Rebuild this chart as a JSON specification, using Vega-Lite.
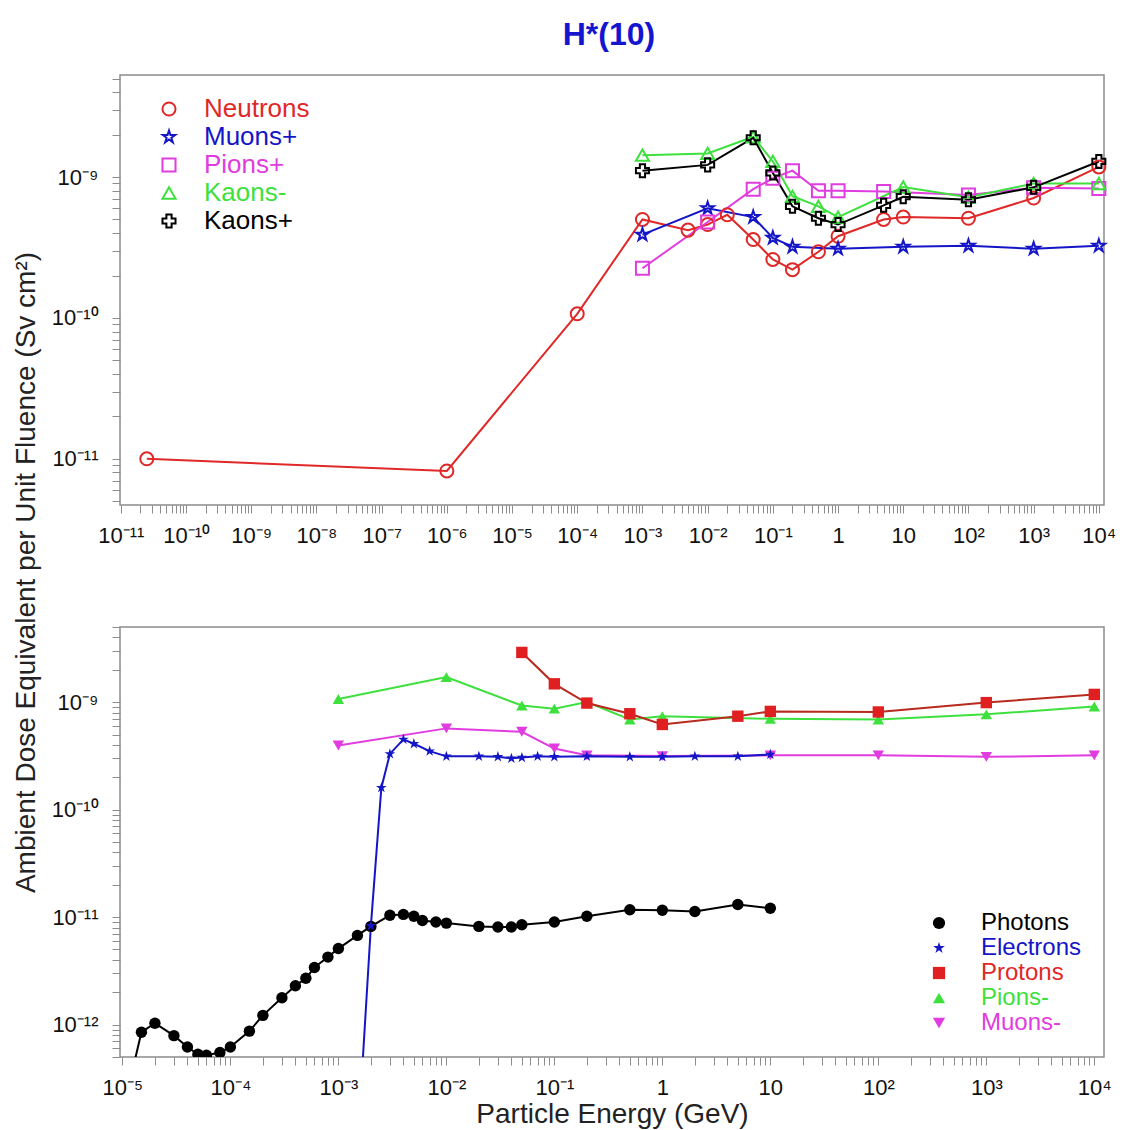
{
  "$schema": "https://vega.github.io/schema/vega-lite/v6.json",
  "padding": {"left": 11, "top": 18, "right": 0, "bottom": 0},
  "background": "white",
  "title": {"text": "H*(10)", "fontSize": 32, "fontWeight": "bold", "color": "#1515d0", "anchor": "middle", "offset": 15, "dx": 45, "font": "Liberation Sans"},
  "bounds": "flush",
  "spacing": 122,
  "datasets": {
    "top": [
      {"p": "Neutrons", "E": 2.5e-11, "H": 1.0e-11},
      {"p": "Neutrons", "E": 1e-6, "H": 8.2e-12},
      {"p": "Neutrons", "E": 1e-4, "H": 1.07e-10},
      {"p": "Neutrons", "E": 1e-3, "H": 5.0e-10},
      {"p": "Neutrons", "E": 5e-3, "H": 4.2e-10},
      {"p": "Neutrons", "E": 1e-2, "H": 4.6e-10},
      {"p": "Neutrons", "E": 2e-2, "H": 5.4e-10},
      {"p": "Neutrons", "E": 5e-2, "H": 3.6e-10},
      {"p": "Neutrons", "E": 0.1, "H": 2.6e-10},
      {"p": "Neutrons", "E": 0.2, "H": 2.2e-10},
      {"p": "Neutrons", "E": 0.5, "H": 2.95e-10},
      {"p": "Neutrons", "E": 1, "H": 3.8e-10},
      {"p": "Neutrons", "E": 5, "H": 5.0e-10},
      {"p": "Neutrons", "E": 10, "H": 5.2e-10},
      {"p": "Neutrons", "E": 100, "H": 5.1e-10},
      {"p": "Neutrons", "E": 1000, "H": 7.1e-10},
      {"p": "Neutrons", "E": 10000, "H": 1.18e-9},
      {"p": "Muons+", "E": 1e-3, "H": 3.9e-10},
      {"p": "Muons+", "E": 1e-2, "H": 6.0e-10},
      {"p": "Muons+", "E": 5e-2, "H": 5.2e-10},
      {"p": "Muons+", "E": 0.1, "H": 3.7e-10},
      {"p": "Muons+", "E": 0.2, "H": 3.2e-10},
      {"p": "Muons+", "E": 1, "H": 3.1e-10},
      {"p": "Muons+", "E": 10, "H": 3.2e-10},
      {"p": "Muons+", "E": 100, "H": 3.25e-10},
      {"p": "Muons+", "E": 1000, "H": 3.1e-10},
      {"p": "Muons+", "E": 10000, "H": 3.25e-10},
      {"p": "Pions+", "E": 1e-3, "H": 2.25e-10},
      {"p": "Pions+", "E": 1e-2, "H": 4.8e-10},
      {"p": "Pions+", "E": 5e-2, "H": 8.2e-10},
      {"p": "Pions+", "E": 0.1, "H": 9.8e-10},
      {"p": "Pions+", "E": 0.2, "H": 1.11e-9},
      {"p": "Pions+", "E": 0.5, "H": 8.0e-10},
      {"p": "Pions+", "E": 1, "H": 8.0e-10},
      {"p": "Pions+", "E": 5, "H": 7.9e-10},
      {"p": "Pions+", "E": 100, "H": 7.45e-10},
      {"p": "Pions+", "E": 1000, "H": 8.4e-10},
      {"p": "Pions+", "E": 10000, "H": 8.3e-10},
      {"p": "Kaons-", "E": 1e-3, "H": 1.43e-9},
      {"p": "Kaons-", "E": 1e-2, "H": 1.47e-9},
      {"p": "Kaons-", "E": 5e-2, "H": 1.93e-9},
      {"p": "Kaons-", "E": 0.1, "H": 1.29e-9},
      {"p": "Kaons-", "E": 0.2, "H": 7.3e-10},
      {"p": "Kaons-", "E": 0.5, "H": 6.2e-10},
      {"p": "Kaons-", "E": 1, "H": 5.2e-10},
      {"p": "Kaons-", "E": 10, "H": 8.5e-10},
      {"p": "Kaons-", "E": 100, "H": 7.2e-10},
      {"p": "Kaons-", "E": 1000, "H": 9.0e-10},
      {"p": "Kaons-", "E": 10000, "H": 9.0e-10},
      {"p": "Kaons+", "E": 1e-3, "H": 1.11e-9},
      {"p": "Kaons+", "E": 1e-2, "H": 1.22e-9},
      {"p": "Kaons+", "E": 5e-2, "H": 1.9e-9},
      {"p": "Kaons+", "E": 0.1, "H": 1.07e-9},
      {"p": "Kaons+", "E": 0.2, "H": 6.2e-10},
      {"p": "Kaons+", "E": 0.5, "H": 5.1e-10},
      {"p": "Kaons+", "E": 1, "H": 4.6e-10},
      {"p": "Kaons+", "E": 5, "H": 6.3e-10},
      {"p": "Kaons+", "E": 10, "H": 7.25e-10},
      {"p": "Kaons+", "E": 100, "H": 6.9e-10},
      {"p": "Kaons+", "E": 1000, "H": 8.45e-10},
      {"p": "Kaons+", "E": 10000, "H": 1.29e-9}
    ],
    "bottom": [
      {"p": "Photons", "E": 1e-5, "H": 1.5e-13},
      {"p": "Photons", "E": 1.5e-5, "H": 8.5e-13},
      {"p": "Photons", "E": 2e-5, "H": 1.03e-12},
      {"p": "Photons", "E": 3e-5, "H": 7.9e-13},
      {"p": "Photons", "E": 4e-5, "H": 6.2e-13},
      {"p": "Photons", "E": 5e-5, "H": 5.3e-13},
      {"p": "Photons", "E": 6e-5, "H": 5.2e-13},
      {"p": "Photons", "E": 8e-5, "H": 5.5e-13},
      {"p": "Photons", "E": 1e-4, "H": 6.2e-13},
      {"p": "Photons", "E": 1.5e-4, "H": 8.7e-13},
      {"p": "Photons", "E": 2e-4, "H": 1.22e-12},
      {"p": "Photons", "E": 3e-4, "H": 1.78e-12},
      {"p": "Photons", "E": 4e-4, "H": 2.3e-12},
      {"p": "Photons", "E": 5e-4, "H": 2.7e-12},
      {"p": "Photons", "E": 6e-4, "H": 3.4e-12},
      {"p": "Photons", "E": 8e-4, "H": 4.25e-12},
      {"p": "Photons", "E": 1e-3, "H": 5.1e-12},
      {"p": "Photons", "E": 1.5e-3, "H": 6.76e-12},
      {"p": "Photons", "E": 2e-3, "H": 8.2e-12},
      {"p": "Photons", "E": 3e-3, "H": 1.04e-11},
      {"p": "Photons", "E": 4e-3, "H": 1.06e-11},
      {"p": "Photons", "E": 5e-3, "H": 1.02e-11},
      {"p": "Photons", "E": 6e-3, "H": 9.3e-12},
      {"p": "Photons", "E": 8e-3, "H": 9.0e-12},
      {"p": "Photons", "E": 1e-2, "H": 8.8e-12},
      {"p": "Photons", "E": 2e-2, "H": 8.2e-12},
      {"p": "Photons", "E": 3e-2, "H": 8.1e-12},
      {"p": "Photons", "E": 4e-2, "H": 8.1e-12},
      {"p": "Photons", "E": 5e-2, "H": 8.5e-12},
      {"p": "Photons", "E": 0.1, "H": 9.0e-12},
      {"p": "Photons", "E": 0.2, "H": 1.02e-11},
      {"p": "Photons", "E": 0.5, "H": 1.17e-11},
      {"p": "Photons", "E": 1, "H": 1.16e-11},
      {"p": "Photons", "E": 2, "H": 1.13e-11},
      {"p": "Photons", "E": 5, "H": 1.31e-11},
      {"p": "Photons", "E": 10, "H": 1.21e-11},
      {"p": "Muons-", "E": 1e-3, "H": 3.95e-10},
      {"p": "Muons-", "E": 1e-2, "H": 5.7e-10},
      {"p": "Muons-", "E": 5e-2, "H": 5.3e-10},
      {"p": "Muons-", "E": 0.1, "H": 3.7e-10},
      {"p": "Muons-", "E": 0.2, "H": 3.2e-10},
      {"p": "Muons-", "E": 1, "H": 3.15e-10},
      {"p": "Muons-", "E": 10, "H": 3.2e-10},
      {"p": "Muons-", "E": 100, "H": 3.2e-10},
      {"p": "Muons-", "E": 1000, "H": 3.1e-10},
      {"p": "Muons-", "E": 10000, "H": 3.2e-10},
      {"p": "Electrons", "E": 1.5e-3, "H": 7e-14},
      {"p": "Electrons", "E": 2e-3, "H": 8.3e-12},
      {"p": "Electrons", "E": 2.5e-3, "H": 1.6e-10},
      {"p": "Electrons", "E": 3e-3, "H": 3.3e-10},
      {"p": "Electrons", "E": 4e-3, "H": 4.5e-10},
      {"p": "Electrons", "E": 5e-3, "H": 4.1e-10},
      {"p": "Electrons", "E": 7e-3, "H": 3.5e-10},
      {"p": "Electrons", "E": 1e-2, "H": 3.13e-10},
      {"p": "Electrons", "E": 2e-2, "H": 3.13e-10},
      {"p": "Electrons", "E": 3e-2, "H": 3.1e-10},
      {"p": "Electrons", "E": 4e-2, "H": 3.0e-10},
      {"p": "Electrons", "E": 5e-2, "H": 3.05e-10},
      {"p": "Electrons", "E": 7e-2, "H": 3.13e-10},
      {"p": "Electrons", "E": 0.1, "H": 3.1e-10},
      {"p": "Electrons", "E": 0.2, "H": 3.13e-10},
      {"p": "Electrons", "E": 0.5, "H": 3.1e-10},
      {"p": "Electrons", "E": 1, "H": 3.1e-10},
      {"p": "Electrons", "E": 2, "H": 3.13e-10},
      {"p": "Electrons", "E": 5, "H": 3.13e-10},
      {"p": "Electrons", "E": 10, "H": 3.26e-10},
      {"p": "Pions-", "E": 1e-3, "H": 1.07e-9},
      {"p": "Pions-", "E": 1e-2, "H": 1.71e-9},
      {"p": "Pions-", "E": 5e-2, "H": 9.3e-10},
      {"p": "Pions-", "E": 0.1, "H": 8.7e-10},
      {"p": "Pions-", "E": 0.2, "H": 1.0e-9},
      {"p": "Pions-", "E": 0.5, "H": 6.9e-10},
      {"p": "Pions-", "E": 1, "H": 7.4e-10},
      {"p": "Pions-", "E": 10, "H": 7.0e-10},
      {"p": "Pions-", "E": 100, "H": 6.9e-10},
      {"p": "Pions-", "E": 1000, "H": 7.7e-10},
      {"p": "Pions-", "E": 10000, "H": 9.1e-10},
      {"p": "Protons", "E": 5e-2, "H": 2.9e-9},
      {"p": "Protons", "E": 0.1, "H": 1.48e-9},
      {"p": "Protons", "E": 0.2, "H": 9.8e-10},
      {"p": "Protons", "E": 0.5, "H": 7.8e-10},
      {"p": "Protons", "E": 1, "H": 6.2e-10},
      {"p": "Protons", "E": 5, "H": 7.4e-10},
      {"p": "Protons", "E": 10, "H": 8.2e-10},
      {"p": "Protons", "E": 100, "H": 8.1e-10},
      {"p": "Protons", "E": 1000, "H": 9.9e-10},
      {"p": "Protons", "E": 10000, "H": 1.18e-9}
    ]
  },
  "resolve": {
    "scale": {"x": "independent", "y": "independent", "color": "independent", "shape": "independent", "stroke": "independent"},
    "legend": {"color": "independent", "shape": "independent", "stroke": "independent"}
  },
  "vconcat": [
    {
      "width": 984,
      "height": 430,
      "data": {"name": "top"},
      "encoding": {
        "x": {
          "field": "E", "type": "quantitative",
          "scale": {"type": "log", "domain": [9.7e-12, 1.2e4], "nice": false},
          "axis": {
            "title": null,
            "labelPadding": 12,
            "labelExpr": "abs(log(datum.value)/LN10 - round(log(datum.value)/LN10)) > 0.01 ? '' : round(log(datum.value)/LN10) == 0 ? '1' : round(log(datum.value)/LN10) == 1 ? '10' : '10' + ['⁻¹²','⁻¹¹','⁻¹⁰','⁻⁹','⁻⁸','⁻⁷','⁻⁶','⁻⁵','⁻⁴','⁻³','⁻²','⁻¹','⁰','¹','²','³','⁴'][round(log(datum.value)/LN10) + 12]",
            "encode": {"ticks": {"update": {"y2": {"signal": "abs(log(datum.value)/LN10 - round(log(datum.value)/LN10)) < 0.01 ? -16 : -8"}}}}
          }
        },
        "y": {
          "field": "H", "type": "quantitative",
          "scale": {"type": "log", "domain": [4.7e-12, 5.3e-9], "nice": false},
          "axis": {
            "title": "Ambient Dose Equivalent per Unit Fluence (Sv cm²)",
            "titleX": -94,
            "titleY": 497,
            "titleAlign": "center",
            "titleBaseline": "middle",
            "titleAngle": -90,
            "labelPadding": 14,
            "labelExpr": "abs(log(datum.value)/LN10 - round(log(datum.value)/LN10)) > 0.01 ? '' : '10' + ['⁻¹²','⁻¹¹','⁻¹⁰','⁻⁹','⁻⁸','⁻⁷','⁻⁶','⁻⁵','⁻⁴','⁻³','⁻²','⁻¹','⁰','¹','²','³','⁴'][round(log(datum.value)/LN10) + 12]",
            "encode": {"ticks": {"update": {"x2": {"signal": "abs(log(datum.value)/LN10 - round(log(datum.value)/LN10)) < 0.01 ? 18 : 9"}}}}
          }
        }
      },
      "layer": [
        {
          "mark": {"type": "line", "strokeWidth": 2, "clip": true},
          "encoding": {
            "stroke": {"field": "p", "type": "nominal", "legend": null,
              "scale": {"domain": ["Kaons+", "Kaons-", "Pions+", "Muons+", "Neutrons"], "range": ["#000000", "#3ee03e", "#e03ce0", "#1515c8", "#e02828"]}}
          }
        },
        {
          "mark": {"type": "point", "filled": false, "strokeWidth": 2, "opacity": 1, "size": 170},
          "encoding": {
            "color": {"field": "p", "type": "nominal",
              "scale": {"domain": ["Neutrons", "Muons+", "Pions+", "Kaons-", "Kaons+"], "range": ["#e02828", "#1515c8", "#e03ce0", "#3ee03e", "#000000"]},
              "legend": {"title": null, "orient": "top-left", "offset": 21, "symbolOffset": 15, "labelFontSize": 26, "symbolSize": 170, "symbolStrokeWidth": 2, "rowPadding": 2, "labelOffset": 22,
                "labelColor": {"expr": "datum.label == 'Neutrons' ? '#e02828' : datum.label == 'Muons+' ? '#1515c8' : datum.label == 'Pions+' ? '#e03ce0' : datum.label == 'Kaons-' ? '#3ee03e' : '#000000'"}}},
            "shape": {"field": "p", "type": "nominal",
              "scale": {"domain": ["Neutrons", "Muons+", "Pions+", "Kaons-", "Kaons+"], "range": ["circle", "M0,-1L0.2245,-0.309L0.9511,-0.309L0.3633,0.118L0.5878,0.809L0,0.382L-0.5878,0.809L-0.3633,0.118L-0.9511,-0.309L-0.2245,-0.309Z", "square", "triangle-up", "cross"]},
              "legend": {"title": null, "orient": "top-left", "offset": 21, "symbolOffset": 15, "labelFontSize": 26, "symbolSize": 170, "symbolStrokeWidth": 2, "rowPadding": 2, "labelOffset": 22,
                "labelColor": {"expr": "datum.label == 'Neutrons' ? '#e02828' : datum.label == 'Muons+' ? '#1515c8' : datum.label == 'Pions+' ? '#e03ce0' : datum.label == 'Kaons-' ? '#3ee03e' : '#000000'"}}}
          }
        }
      ]
    },
    {
      "width": 984,
      "height": 430,
      "data": {"name": "bottom"},
      "encoding": {
        "x": {
          "field": "E", "type": "quantitative",
          "scale": {"type": "log", "domain": [9.5e-6, 1.23e4], "nice": false},
          "axis": {
            "title": "Particle Energy (GeV)",
            "titlePadding": 2,
            "labelPadding": 12,
            "labelExpr": "abs(log(datum.value)/LN10 - round(log(datum.value)/LN10)) > 0.01 ? '' : round(log(datum.value)/LN10) == 0 ? '1' : round(log(datum.value)/LN10) == 1 ? '10' : '10' + ['⁻¹²','⁻¹¹','⁻¹⁰','⁻⁹','⁻⁸','⁻⁷','⁻⁶','⁻⁵','⁻⁴','⁻³','⁻²','⁻¹','⁰','¹','²','³','⁴'][round(log(datum.value)/LN10) + 12]",
            "encode": {"ticks": {"update": {"y2": {"signal": "abs(log(datum.value)/LN10 - round(log(datum.value)/LN10)) < 0.01 ? -16 : -8"}}}}
          }
        },
        "y": {
          "field": "H", "type": "quantitative",
          "scale": {"type": "log", "domain": [5.0e-13, 5.0e-9], "nice": false},
          "axis": {
            "title": null,
            "labelPadding": 14,
            "labelExpr": "abs(log(datum.value)/LN10 - round(log(datum.value)/LN10)) > 0.01 ? '' : '10' + ['⁻¹²','⁻¹¹','⁻¹⁰','⁻⁹','⁻⁸','⁻⁷','⁻⁶','⁻⁵','⁻⁴','⁻³','⁻²','⁻¹','⁰','¹','²','³','⁴'][round(log(datum.value)/LN10) + 12]",
            "encode": {"ticks": {"update": {"x2": {"signal": "abs(log(datum.value)/LN10 - round(log(datum.value)/LN10)) < 0.01 ? 18 : 9"}}}}
          }
        }
      },
      "layer": [
        {
          "mark": {"type": "line", "strokeWidth": 2, "clip": true},
          "encoding": {
            "stroke": {"field": "p", "type": "nominal", "legend": null,
              "scale": {"domain": ["Muons-", "Pions-", "Protons", "Electrons", "Photons"], "range": ["#e03ce0", "#3ee03e", "#b82a1e", "#1515c8", "#000000"]}}
          }
        },
        {
          "mark": {"type": "point", "filled": true, "opacity": 1, "size": 130, "clip": true},
          "encoding": {
            "color": {"field": "p", "type": "nominal",
              "scale": {"domain": ["Photons", "Electrons", "Protons", "Pions-", "Muons-"], "range": ["#000000", "#1515c8", "#e02020", "#3ee03e", "#e03ce0"]},
              "legend": {"title": null, "orient": "bottom-right", "offset": 22, "labelFontSize": 24, "symbolSize": 150, "rowPadding": 1, "labelOffset": 30,
                "labelColor": {"expr": "datum.label == 'Electrons' ? '#1515c8' : datum.label == 'Protons' ? '#e02828' : datum.label == 'Pions-' ? '#3ee03e' : datum.label == 'Muons-' ? '#e03ce0' : '#000000'"}}},
            "shape": {"field": "p", "type": "nominal",
              "scale": {"domain": ["Photons", "Electrons", "Protons", "Pions-", "Muons-"], "range": ["circle", "M0,-1L0.2245,-0.309L0.9511,-0.309L0.3633,0.118L0.5878,0.809L0,0.382L-0.5878,0.809L-0.3633,0.118L-0.9511,-0.309L-0.2245,-0.309Z", "square", "triangle-up", "triangle-down"]},
              "legend": {"title": null, "orient": "bottom-right", "offset": 22, "labelFontSize": 24, "symbolSize": 150, "rowPadding": 1, "labelOffset": 30,
                "labelColor": {"expr": "datum.label == 'Electrons' ? '#1515c8' : datum.label == 'Protons' ? '#e02828' : datum.label == 'Pions-' ? '#3ee03e' : datum.label == 'Muons-' ? '#e03ce0' : '#000000'"}}}
          }
        }
      ]
    }
  ],
  "config": {
    "font": "Liberation Sans",
    "view": {"stroke": "#8c8c8c", "strokeWidth": 1.5},
    "axis": {
      "domain": false, "grid": false, "ticks": true, "tickSize": 8, "tickColor": "#8c8c8c", "tickWidth": 1,
      "tickCount": 40, "labelOverlap": false, "labelFlush": false, "labelBound": false,
      "labelColor": "#111111", "labelFontSize": 22, "labelFont": "Liberation Sans",
      "titleFont": "Liberation Sans", "titleFontWeight": "normal", "titleFontSize": 28, "titleColor": "#222222"
    },
    "legend": {"labelFont": "Liberation Sans"}
  }
}
